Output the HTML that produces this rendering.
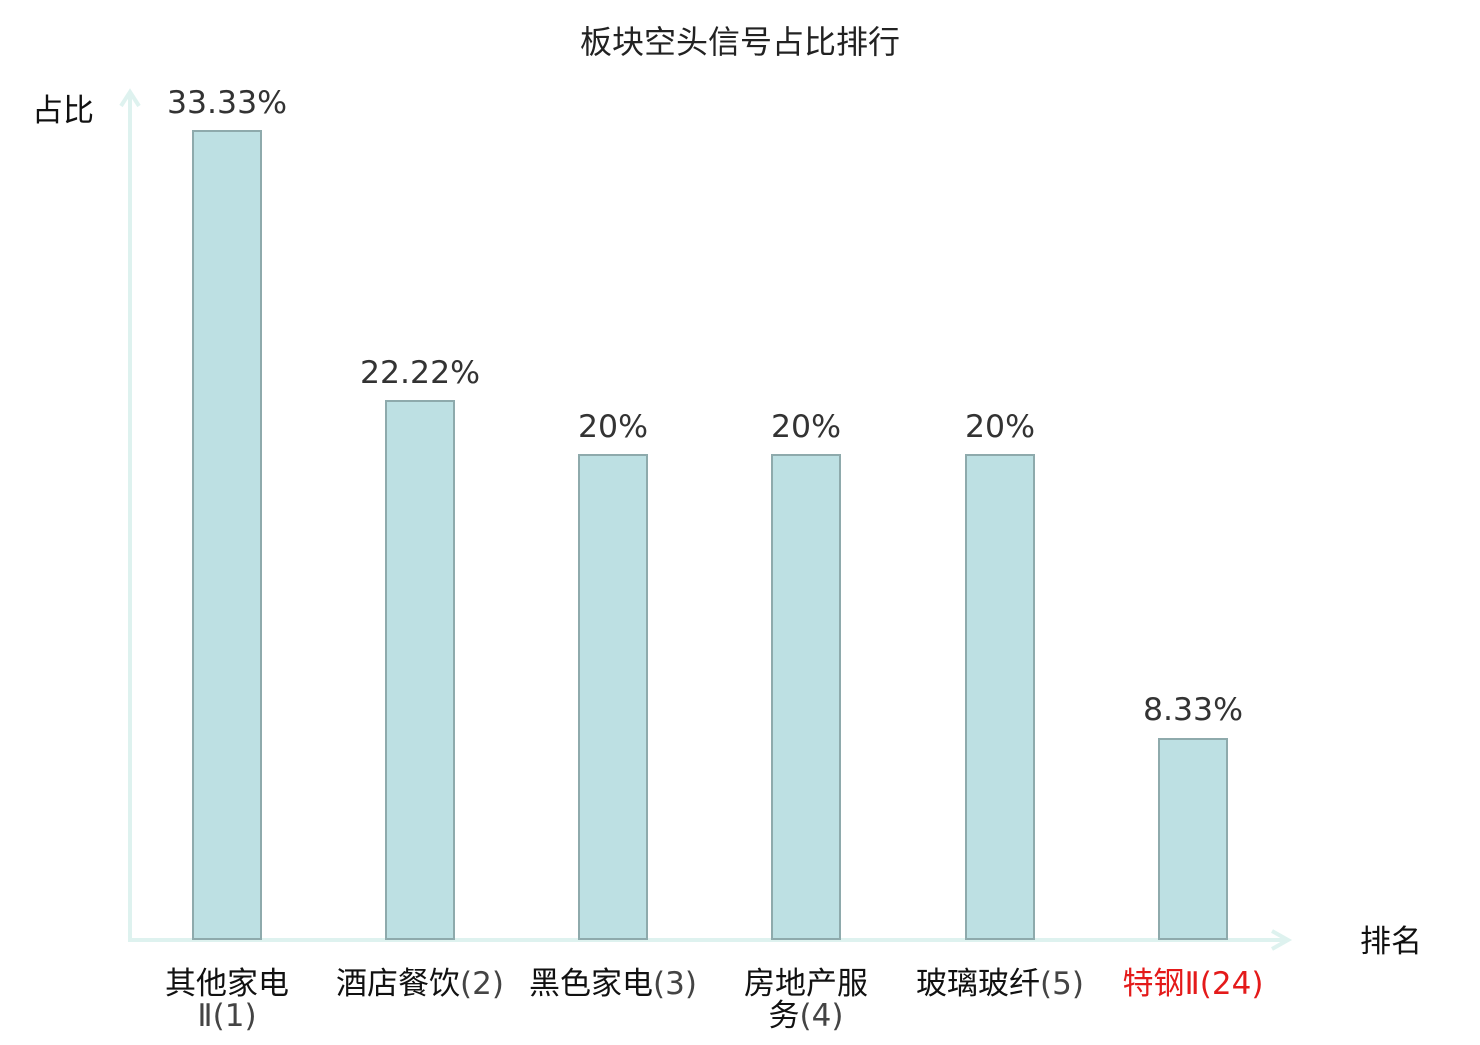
<!DOCTYPE html>
<html><head><meta charset="utf-8"><style>body{margin:0;background:#fff}</style></head><body>
<svg width="1480" height="1040" xmlns="http://www.w3.org/2000/svg" font-family="'DejaVu Sans','Noto Sans CJK SC',sans-serif">
<text x="740" y="53" text-anchor="middle" font-size="32" fill="#222">板块空头信号占比排行</text>
<text x="63" y="121" text-anchor="middle" font-size="31" fill="#111">占比</text>
<text x="1391" y="952" text-anchor="middle" font-size="31" fill="#111">排名</text>
<g stroke="#def2ef" stroke-width="4" fill="none">
<line x1="130" y1="942" x2="130" y2="92"/>
<polyline points="121,106 130,92 139,106"/>
<line x1="128" y1="940" x2="1288" y2="940"/>
<polyline points="1272,931 1288,940 1272,949"/>
</g>
<g fill="#bde0e3" stroke="#8eaaac" stroke-width="2">
<rect x="193" y="131" width="68" height="808"/>
<rect x="386" y="401" width="68" height="538"/>
<rect x="579" y="455" width="68" height="484"/>
<rect x="772" y="455" width="68" height="484"/>
<rect x="966" y="455" width="68" height="484"/>
<rect x="1159" y="739" width="68" height="200"/>
</g>
<g font-size="31.5" fill="#333" text-anchor="middle">
<text x="227" y="113">33.33%</text>
<text x="420" y="383">22.22%</text>
<text x="613" y="437">20%</text>
<text x="806" y="437">20%</text>
<text x="1000" y="437">20%</text>
<text x="1193" y="720">8.33%</text>
</g>
<g font-size="31" fill="#111" text-anchor="middle">
<text x="227" y="994">其他家电</text>
<text x="227" y="1026" fill="#444">Ⅱ(1)</text>
<text x="420" y="994">酒店餐饮<tspan fill="#444">(2)</tspan></text>
<text x="613" y="994">黑色家电<tspan fill="#444">(3)</tspan></text>
<text x="806" y="994">房地产服</text>
<text x="806" y="1026">务<tspan fill="#444">(4)</tspan></text>
<text x="1000" y="994">玻璃玻纤<tspan fill="#444">(5)</tspan></text>
<text x="1193" y="994" fill="#e41a1a">特钢Ⅱ(24)</text>
</g>
</svg>
</body></html>
